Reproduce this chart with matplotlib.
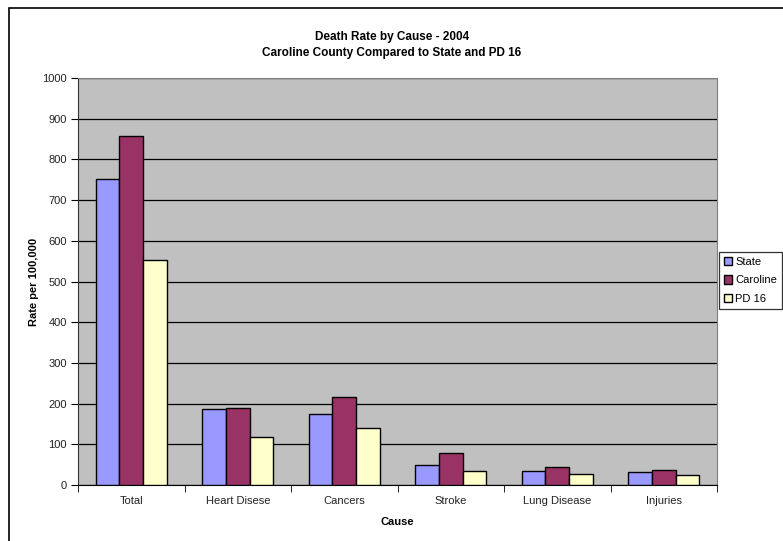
import matplotlib
matplotlib.use("Agg")
import matplotlib.pyplot as plt
from matplotlib.patches import Rectangle
import numpy as np

plt.rcParams['font.family'] = ['Liberation Sans', 'DejaVu Sans']

causes = ["Total", "Heart Disese", "Cancers", "Stroke", "Lung Disease", "Injuries"]
state = [753, 186, 174, 49, 35, 33]
caroline = [857, 188, 216, 79, 43, 38]
pd16 = [553, 117, 141, 35, 27, 25]
series_names = ["State", "Caroline", "PD 16"]
colors = ["#9999FF", "#993366", "#FFFFCC"]
yticks = list(range(0, 1001, 100))

W, H = 783, 541
fig = plt.figure(figsize=(W / 100, H / 100), dpi=100)

# outer chart frame (runs off the right and bottom edges)
fig.patches.append(Rectangle((9 / W, -0.1), 1.2, (H - 8) / H + 0.1, transform=fig.transFigure,
                             fill=False, edgecolor="black", linewidth=1.2))

left, right, top, bottom = 78, 717, 78, 485
ax = fig.add_axes([left / W, (H - bottom) / H, (right - left) / W, (bottom - top) / H])
ax.set_facecolor("#C0C0C0")

n = len(causes)
x = np.arange(n)
bw = 1 / 4.5
for i, (vals, name, c) in enumerate(zip([state, caroline, pd16], series_names, colors)):
    ax.bar(x + (i - 1) * bw, vals, width=bw, color=c, edgecolor="black", linewidth=1.0,
           label=name, zorder=3)

ax.set_xlim(-0.5, n - 0.5)
ax.set_ylim(0, 1000)
ax.set_yticks(yticks)
ax.set_yticklabels([str(v) for v in yticks], fontsize=8, color="#222222")
ax.yaxis.grid(True, color="black", linewidth=0.9, zorder=1)
ax.set_axisbelow(True)

ax.set_xticks(x)
ax.set_xticklabels(causes, fontsize=8, color="#222222")
ax.tick_params(axis="x", length=0, pad=8)
ax.set_xticks(np.arange(n + 1) - 0.5, minor=True)
ax.tick_params(axis="x", which="minor", length=5, direction="out", color="black")
ax.tick_params(axis="y", length=5, direction="out", color="black", pad=3)

for s in ["top", "right"]:
    ax.spines[s].set_color("#808080")
ax.spines["left"].set_color("#333333")
ax.spines["bottom"].set_color("black")

ax.set_xlabel("Cause", fontsize=8, fontweight="bold", labelpad=8)
ax.set_ylabel("Rate per 100,000", fontsize=8, fontweight="bold")
ax.yaxis.set_label_coords(-(left - 39) / (right - left), 0.5)

fig.text(392 / W, 1 - 37 / H, "Death Rate by Cause - 2004", ha="center", va="center",
         fontsize=8.5, fontweight="bold")
fig.text(392 / W, 1 - 53 / H, "Caroline County Compared to State and PD 16", ha="center",
         va="center", fontsize=8.5, fontweight="bold")

leg = fig.legend(loc="upper left", bbox_to_anchor=(719 / W, 1 - 252 / H), fontsize=8,
                 frameon=True, fancybox=False, edgecolor="black", handlelength=0.75,
                 handleheight=0.75, handletextpad=0.25, borderpad=0.45, labelspacing=0.75,
                 borderaxespad=0)
leg.get_frame().set_linewidth(0.9)
leg._legend_box.align = "left"

fig.savefig("out.png", dpi=100)
